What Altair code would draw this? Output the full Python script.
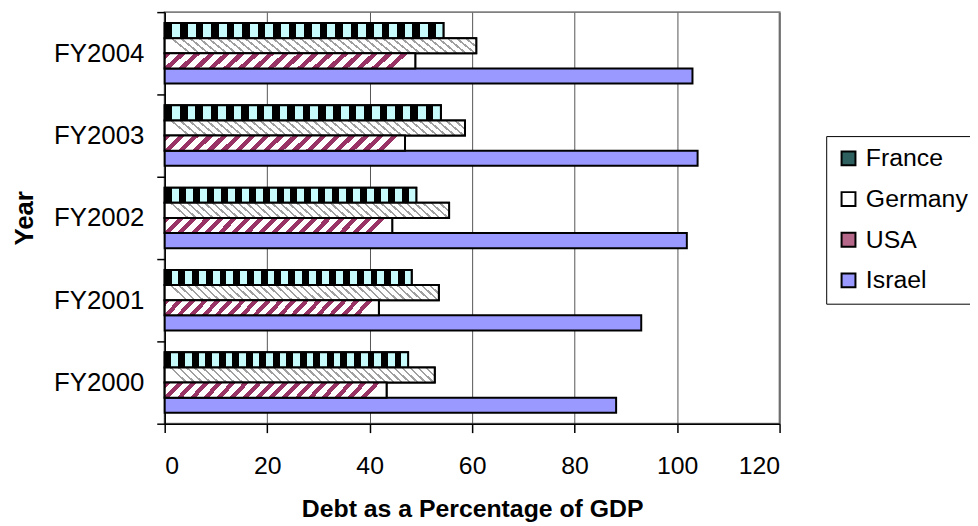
import altair as alt
import pandas as pd

years = ["FY2000", "FY2001", "FY2002", "FY2003", "FY2004"]
series = ["France", "Germany", "USA", "Israel"]
france = [47.5, 48.2, 49.1, 53.9, 54.4]
germany = [52.7, 53.5, 55.5, 58.6, 60.8]
usa = [43.3, 41.8, 44.4, 46.9, 48.9]
israel = [88.1, 93.0, 101.9, 104.0, 103.0]
x_ticks = [0, 20, 40, 60, 80, 100, 120]

rows = []
for name, vals in zip(series, [france, germany, usa, israel]):
    for yr, v in zip(years, vals):
        rows.append({"year": yr, "series": name, "value": v})
df = pd.DataFrame(rows)

FONT = "Liberation Sans"


def stripes(c1, c2, periods, frac, x2=1.0, y1=0.0, y2=0.0):
    stops = []
    for i in range(periods):
        a = i / periods
        b = (i + frac) / periods
        c = (i + 1) / periods
        stops += [
            alt.GradientStop(offset=a, color=c1),
            alt.GradientStop(offset=b, color=c1),
            alt.GradientStop(offset=b, color=c2),
            alt.GradientStop(offset=c, color=c2),
        ]
    return alt.LinearGradient(gradient="linear", stops=stops, x1=0, x2=x2, y1=y1, y2=y2)


x_enc = alt.X(
    "value:Q",
    scale=alt.Scale(domain=[0, 120], nice=False),
    axis=alt.Axis(
        values=x_ticks,
        title="Debt as a Percentage of GDP",
        grid=True,
        gridColor="#555555",
        gridWidth=1,
        labelFontSize=25,
        titleFontSize=25,
        titleFontWeight="bold",
        tickSize=9,
        tickWidth=1.5,
        domainWidth=1.5,
        labelPadding=21,
        titlePadding=19,
    ),
)
y_enc = alt.Y(
    "year:N",
    sort=list(reversed(years)),
    scale=alt.Scale(paddingInner=0, paddingOuter=0),
    axis=alt.Axis(
        title="Year",
        tickBand="extent",
        labelFontSize=26,
        titleFontSize=26,
        titleFontWeight="bold",
        tickSize=8,
        tickWidth=1.5,
        domainWidth=1.5,
        labelPadding=13,
        titlePadding=16,
        grid=False,
    ),
)
yoff_enc = alt.YOffset(
    "series:N",
    sort=series,
    scale=alt.Scale(domain=series, paddingInner=0, paddingOuter=0.72),
)

base = alt.Chart(df).mark_bar(stroke="black", strokeWidth=2).encode(
    x=x_enc,
    y=y_enc,
    yOffset=yoff_enc,
    color=alt.Color(
        "series:N",
        scale=alt.Scale(domain=series, range=["#2f6060", "#ffffff", "#b5678a", "#9999ff"]),
        legend=alt.Legend(
            title=None,
            orient="none",
            legendX=667,
            legendY=125,
            symbolType="square",
            symbolSize=196,
            symbolStrokeColor="black",
            symbolStrokeWidth=2,
            symbolOpacity=1,
            labelFontSize=25,
            labelFont=FONT,
            labelColor="black",
            labelOffset=5,
            padding=10,
            rowPadding=15,
            strokeColor="black",
            fillColor="white",
        ),
    ),
)

france_layer = alt.Chart(df).transform_filter(alt.datum.series == "France").mark_bar(
    fill=stripes("#000000", "#c8fcfc", 18, 0.5), stroke="black", strokeWidth=2
).encode(x=x_enc, y=y_enc, yOffset=yoff_enc)

germany_layer = alt.Chart(df).transform_filter(alt.datum.series == "Germany").mark_bar(
    fill=stripes("#ffffff", "#a0a0a0", 34, 0.7, x2=1.0, y1=0.06, y2=0.0),
    stroke="black", strokeWidth=2
).encode(x=x_enc, y=y_enc, yOffset=yoff_enc)

usa_layer = alt.Chart(df).transform_filter(alt.datum.series == "USA").mark_bar(
    fill=stripes("#993366", "#ffffff", 17, 0.45, x2=1.0, y1=0.0, y2=0.065),
    stroke="black", strokeWidth=2
).encode(x=x_enc, y=y_enc, yOffset=yoff_enc)

chart = (
    alt.layer(base, france_layer, germany_layer, usa_layer)
    .properties(
        width=620,
        height=415,
        autosize=alt.AutoSizeParams(type="none"),
        padding={"left": 158, "top": 2, "right": 192, "bottom": 101},
    )
    .configure_view(stroke="#808080", strokeWidth=2)
    .configure_axis(
        labelFont=FONT,
        titleFont=FONT,
        labelColor="black",
        titleColor="black",
        domainColor="black",
        tickColor="black",
    )
)

chart.save("out.html", embed_options={"renderer": "svg", "actions": False})
